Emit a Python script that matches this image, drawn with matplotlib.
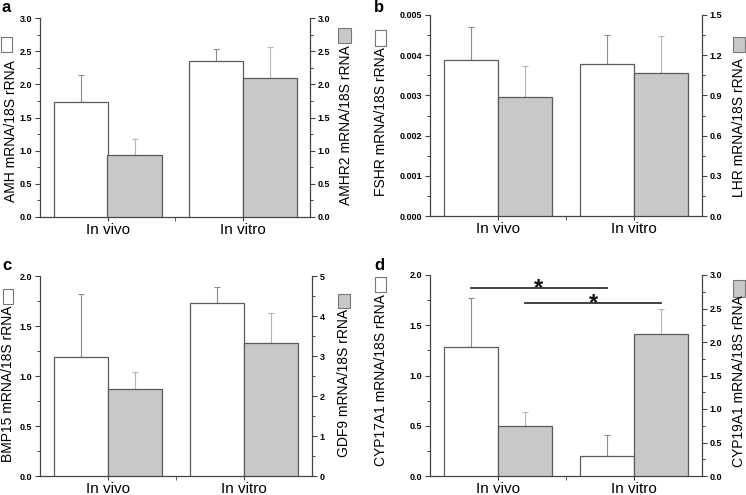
import matplotlib
matplotlib.use("Agg")
import matplotlib.pyplot as plt
from matplotlib.patches import Rectangle
from matplotlib.ticker import MultipleLocator, FormatStrFormatter, FixedLocator
import numpy as np

plt.rcParams['font.family'] = ['Liberation Sans', 'DejaVu Sans']

categories = ["In vivo", "In vitro"]

# panel a
amh = [1.74, 2.35]; amh_err = [0.40, 0.18]
amhr2 = [0.94, 2.09]; amhr2_err = [0.24, 0.47]
# panel b
fshr = [0.00389, 0.00379]; fshr_err = [0.0008, 0.00071]
lhr = [0.89, 1.07]; lhr_err = [0.23, 0.27]
# panel c
bmp15 = [1.19, 1.73]; bmp15_err = [0.63, 0.16]
gdf9 = [2.17, 3.32]; gdf9_err = [0.42, 0.75]
# panel d
cyp17 = [1.28, 0.20]; cyp17_err = [0.49, 0.21]
cyp19 = [0.75, 2.125]; cyp19_err = [0.205, 0.375]

W, H = 746, 495
fig = plt.figure(figsize=(W/100, H/100), dpi=100)

EDGE = "#5a5a5a"
GREY = "#c8c8c8"

def px_axes(l, r, t, b):
    return fig.add_axes([l/W, (H-b)/H, (r-l)/W, (b-t)/H])

def panel(box, lv, le, rv, re, lylim, lmaj, lmin, lfmt, rylim, rmaj, rmin, rfmt):
    ax = px_axes(*box)
    ax2 = ax.twinx()
    x = np.array([0.5, 1.5])
    ax.bar(x - 0.2, lv, width=0.4, color="white", edgecolor=EDGE, linewidth=0.9, zorder=3)
    ax.errorbar(x - 0.2, lv, yerr=[np.zeros(2), le], fmt="none", ecolor="#8c8c8c",
                elinewidth=0.8, capsize=2, capthick=0.8, zorder=2)
    ax2.bar(x + 0.2, rv, width=0.4, color=GREY, edgecolor=EDGE, linewidth=0.9, zorder=3)
    ax2.errorbar(x + 0.2, rv, yerr=[np.zeros(2), re], fmt="none", ecolor="#b4b4b4",
                 elinewidth=0.8, capsize=2, capthick=0.8, zorder=2)
    ax.set_xlim(0, 2)
    ax.set_ylim(*lylim)
    ax2.set_ylim(*rylim)
    for a in (ax, ax2):
        a.spines['top'].set_visible(False)
        for s in a.spines.values():
            s.set_color("#444444")
            s.set_linewidth(0.9)
    ax.spines['right'].set_visible(False)
    ax2.spines['left'].set_visible(False)
    ax2.spines['bottom'].set_visible(False)
    ax.yaxis.set_major_locator(MultipleLocator(lmaj))
    ax.yaxis.set_minor_locator(MultipleLocator(lmin))
    ax.yaxis.set_major_formatter(FormatStrFormatter(lfmt))
    ax2.yaxis.set_major_locator(MultipleLocator(rmaj))
    ax2.yaxis.set_minor_locator(MultipleLocator(rmin))
    ax2.yaxis.set_major_formatter(FormatStrFormatter(rfmt))
    ax.set_xticks(x)
    ax.set_xticklabels(categories, fontsize=11)
    ax.xaxis.set_minor_locator(FixedLocator([1.0]))
    ax.tick_params(axis='x', which='both', length=3, color="#444444", pad=1)
    for a in (ax, ax2):
        a.tick_params(axis='y', which='major', length=3.5, width=0.8, color="#444444",
                      labelsize=6.5, pad=2)
        a.tick_params(axis='y', which='minor', length=2, width=0.7, color="#444444")
        for lab in a.get_yticklabels():
            lab.set_fontweight("bold")
    return ax, ax2

def vtext(xc, yc, s):
    fig.text(xc/W, 1 - yc/H, s, rotation=90, ha="center", va="center", fontsize=10)

def square(x0, x1, y0, y1, color):
    fig.patches.append(Rectangle((x0/W, 1 - y1/H), (x1-x0)/W, (y1-y0)/H,
                                 transform=fig.transFigure, facecolor=color,
                                 edgecolor="#777777", linewidth=0.8))

def letter(x, y, s):
    fig.text(x/W, 1 - y/H, s, fontsize=12, fontweight="bold", ha="left", va="center")

# panel a
panel((40, 310, 18, 217), amh, amh_err, amhr2, amhr2_err,
      (0, 3.0), 0.5, 0.25, "%.1f", (0, 3.0), 0.5, 0.25, "%.1f")
vtext(11, 131, "AMH mRNA/18S rRNA"); square(1, 12, 37, 52, "white")
vtext(346, 125, "AMHR2 mRNA/18S rRNA"); square(338, 351, 28, 43, GREY)
letter(2, 8, "a")

# panel b
panel((430, 702, 15, 216), fshr, fshr_err, lhr, lhr_err,
      (0, 0.005), 0.001, 0.0005, "%.3f", (0, 1.5), 0.3, 0.15, "%.1f")
vtext(381, 122, "FSHR mRNA/18S rRNA"); square(375, 386, 30, 46, "white")
vtext(739, 128, "LHR mRNA/18S rRNA"); square(733, 745, 37, 52, GREY)
letter(374, 8, "b")

# panel c
panel((40, 312, 276, 476), bmp15, bmp15_err, gdf9, gdf9_err,
      (0, 2.0), 0.5, 0.25, "%.1f", (0, 5), 1, 0.5, "%d")
vtext(8, 384, "BMP15 mRNA/18S rRNA"); square(3, 13, 289, 304, "white")
vtext(344, 383, "GDF9 mRNA/18S rRNA"); square(338, 350, 294, 308, GREY)
letter(2, 265, "c")

# panel d
axd, axd2 = panel((430, 702, 275, 476), cyp17, cyp17_err, cyp19, cyp19_err,
                  (0, 2.0), 0.5, 0.25, "%.1f", (0, 3.0), 0.5, 0.25, "%.1f")
vtext(381, 380, "CYP17A1 mRNA/18S rRNA"); square(375, 386, 277, 292, "white")
vtext(739, 381, "CYP19A1 mRNA/18S rRNA"); square(733, 745, 280, 297, GREY)
letter(374, 265, "d")

sig_lines = [(0.3, 1.3, 1.867), (0.7, 1.7, 1.717)]
for x0, x1, y in sig_lines:
    axd.plot([x0, x1], [y, y], color="#333333", lw=1.3, zorder=5, clip_on=False)
    axd.text((x0 + x1) / 2, y - 0.065, "*", ha="center", va="baseline", fontsize=17,
             fontweight="bold", color="#111111")

fig.savefig("out.png", dpi=100)
